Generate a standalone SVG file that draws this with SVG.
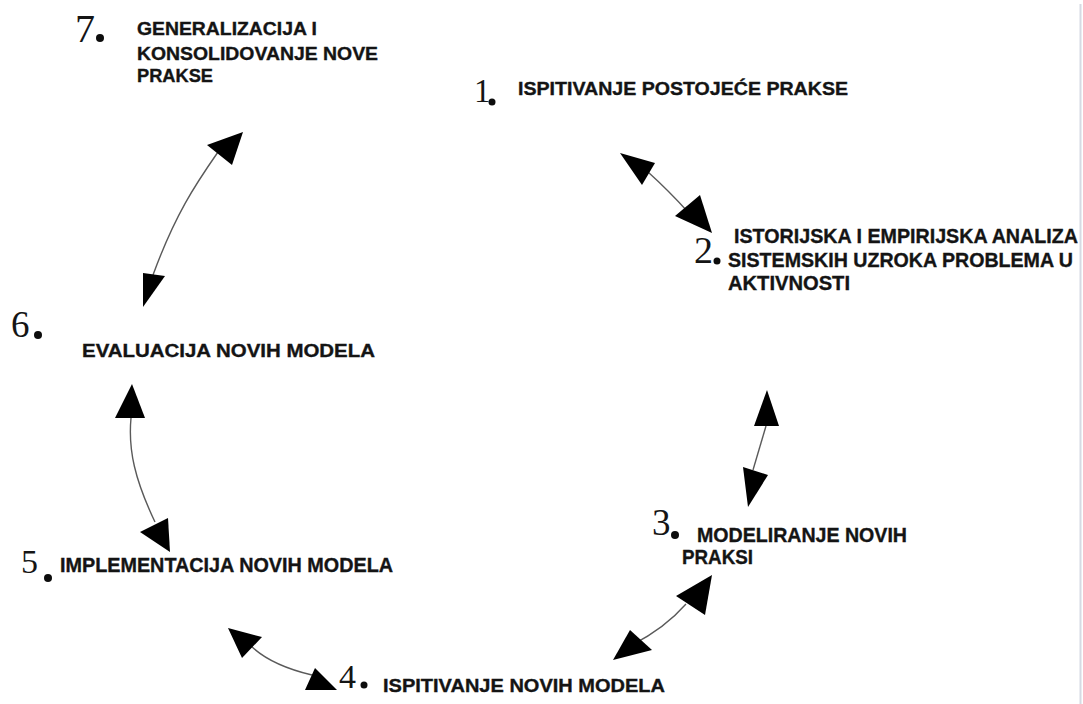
<svg xmlns="http://www.w3.org/2000/svg" width="1083" height="704" viewBox="0 0 1083 704">
<style>
.lbl{font-family:"Liberation Sans",Arial,sans-serif;font-weight:bold;fill:#141414;stroke:#141414;stroke-width:0.35}
.num{font-family:"Liberation Serif","Times New Roman",serif;fill:#151515}
.dot{fill:#0d0d0d}
.con{fill:none;stroke:#5a5a5a;stroke-width:1.4}
.head{fill:#000}
</style>
<rect width="1083" height="704" fill="#fff"/>
<line x1="1080.5" y1="4" x2="1080.5" y2="704" stroke="#d6dae3" stroke-width="2"/>
<g id="connectors">
<path class="con" d="M218,152 C195,185 175,215 153,275"/>
<polygon class="head" points="243,132 207,145 232,165"/>
<polygon class="head" points="143,307 143,273 165,276"/>
<path class="con" d="M131,418 C128,450 135,480 155,522"/>
<polygon class="head" points="132,384 115,418 145,418"/>
<polygon class="head" points="170,552 140,532 168,518"/>
<path class="con" d="M648,172 Q668,190 688,212"/>
<polygon class="head" points="620,153 642,185 655,163"/>
<polygon class="head" points="712,233 675,216 700,195"/>
<path class="con" d="M766,426 L753,470"/>
<polygon class="head" points="767,390 754,426 779,426"/>
<polygon class="head" points="748,507 743,467 768,475"/>
<path class="con" d="M686,604 Q665,628 632,645"/>
<polygon class="head" points="712,575 676,596 705,615"/>
<polygon class="head" points="613,660 630,630 652,650"/>
<path class="con" d="M250,645 Q270,665 312,675"/>
<polygon class="head" points="228,628 242,658 262,637"/>
<polygon class="head" points="337,690 305,690 315,668"/>
</g>
<g id="node7">
<text class="num" x="75" y="42" font-size="40">7</text>
<circle class="dot" cx="100" cy="38" r="4"/>
<text class="lbl" font-size="18" x="137" y="35" textLength="180" lengthAdjust="spacingAndGlyphs">GENERALIZACIJA I</text>
<text class="lbl" font-size="18" x="137" y="60" textLength="241" lengthAdjust="spacingAndGlyphs">KONSOLIDOVANJE NOVE</text>
<text class="lbl" font-size="18" x="137" y="82" textLength="76" lengthAdjust="spacingAndGlyphs">PRAKSE</text>
</g>
<g id="node1">
<text class="num" x="474" y="102" font-size="33">1</text>
<circle class="dot" cx="492" cy="102" r="3.5"/>
<text class="lbl" font-size="18" x="518" y="95" textLength="330" lengthAdjust="spacingAndGlyphs">ISPITIVANJE POSTOJEĆE PRAKSE</text>
</g>
<g id="node2">
<text class="num" x="694" y="263" font-size="38">2</text>
<circle class="dot" cx="717" cy="261" r="3.5"/>
<text class="lbl" font-size="20" x="734" y="243" textLength="344" lengthAdjust="spacingAndGlyphs">ISTORIJSKA I EMPIRIJSKA ANALIZA</text>
<text class="lbl" font-size="20" x="728" y="267" textLength="345" lengthAdjust="spacingAndGlyphs">SISTEMSKIH UZROKA PROBLEMA U</text>
<text class="lbl" font-size="20" x="728" y="290" textLength="122" lengthAdjust="spacingAndGlyphs">AKTIVNOSTI</text>
</g>
<g id="node3">
<text class="num" x="652" y="535" font-size="37">3</text>
<circle class="dot" cx="675" cy="535" r="4"/>
<text class="lbl" font-size="20" x="697" y="542" textLength="210" lengthAdjust="spacingAndGlyphs">MODELIRANJE NOVIH</text>
<text class="lbl" font-size="20" x="682" y="564" textLength="71" lengthAdjust="spacingAndGlyphs">PRAKSI</text>
</g>
<g id="node4">
<text class="num" x="339" y="688" font-size="34">4</text>
<circle class="dot" cx="364" cy="685" r="3.5"/>
<text class="lbl" font-size="19" x="383" y="692" textLength="282" lengthAdjust="spacingAndGlyphs">ISPITIVANJE NOVIH MODELA</text>
</g>
<g id="node5">
<text class="num" x="21" y="573" font-size="34">5</text>
<circle class="dot" cx="48" cy="578" r="4"/>
<text class="lbl" font-size="20" x="60" y="572" textLength="333" lengthAdjust="spacingAndGlyphs">IMPLEMENTACIJA NOVIH MODELA</text>
</g>
<g id="node6">
<text class="num" x="11" y="337" font-size="37">6</text>
<circle class="dot" cx="38" cy="335" r="4"/>
<text class="lbl" font-size="19" x="82" y="357" textLength="293" lengthAdjust="spacingAndGlyphs">EVALUACIJA NOVIH MODELA</text>
</g>
</svg>
